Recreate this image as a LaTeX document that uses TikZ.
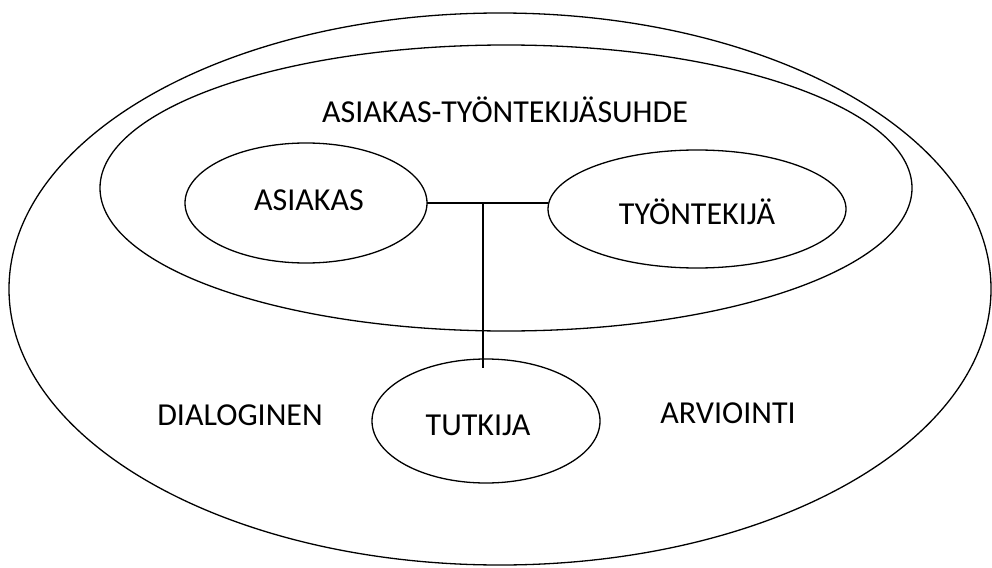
\documentclass[tikz,border=0pt]{standalone}
\usepackage{fontspec}
\setmainfont{Carlito}
\usetikzlibrary{shapes.geometric}
\begin{document}
\begin{tikzpicture}[x=1pt,y=-1pt,
  ring/.style={draw,line width=1.3pt},
  lbl/.style={font=\fontsize{32}{38}\selectfont,inner sep=0pt}]
\useasboundingbox (0,0) rectangle (992,567);
% outer and inner boundaries
\draw[ring] (500,289) ellipse [x radius=491, y radius=276];
\draw[ring] (506,188) ellipse [x radius=406, y radius=143];
% participants
\draw[ring] (306,203) ellipse [x radius=121, y radius=60];
\draw[ring] (697,209) ellipse [x radius=149, y radius=59];
\draw[ring] (486,421) ellipse [x radius=114, y radius=62];
\coordinate (aR) at (427,203);
\coordinate (tL) at (548,203);
\coordinate (mid) at (483,203);
\coordinate (tuTop) at (483,368);
\draw[line width=1.3pt] (aR) -- (tL);
\draw[line width=1.3pt] (mid) -- (tuTop);
% labels
\node[lbl] (rel) at (505,110) {ASIAKAS-TYÖNTEKIJÄSUHDE};
\node[lbl] (asi) at (309,200) {ASIAKAS};
\node[lbl] (tyo) at (697,212) {TYÖNTEKIJÄ};
\node[lbl] (dia) at (240,415) {DIALOGINEN};
\node[lbl] (tut) at (478,425) {TUTKIJA};
\node[lbl] (arv) at (728,413) {ARVIOINTI};
\end{tikzpicture}
\end{document}
